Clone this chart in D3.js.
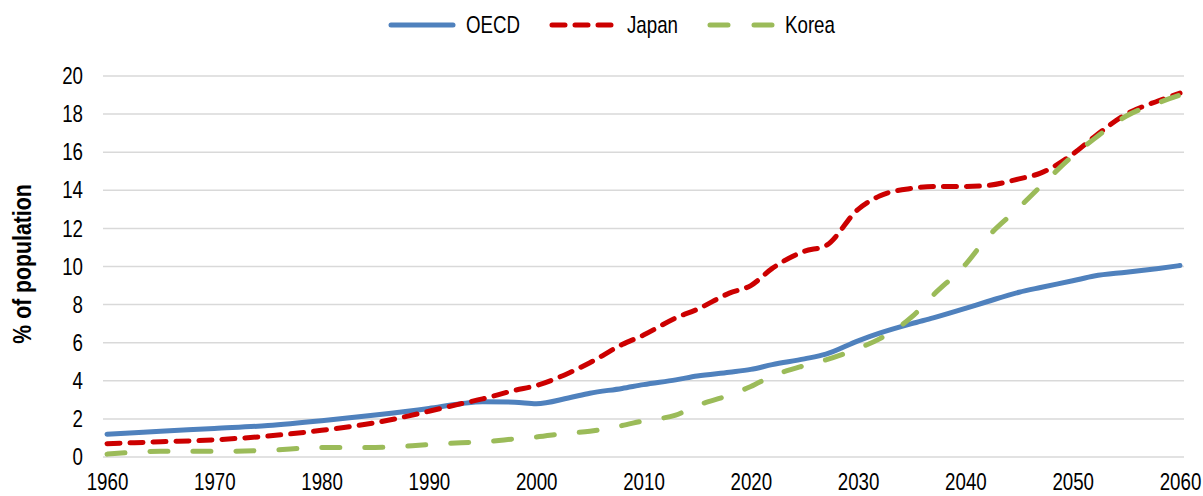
<!DOCTYPE html>
<html>
<head>
<meta charset="utf-8">
<script src="https://cdn.jsdelivr.net/npm/d3@7"></script>
<style>
  body { margin: 0; background: #fff; }
  svg text { font-family: "Liberation Sans", Arial, sans-serif; fill: #000; }
</style>
</head>
<body>
<svg id="chart" width="1203" height="496"></svg>
<script>
// data (share of population, %)
const years = [1960, 1965, 1970, 1975, 1980, 1985, 1990, 1993, 1995, 1998, 2000, 2003, 2005, 2008, 2010,
  2013, 2015, 2018, 2020, 2022, 2025, 2027, 2030, 2032, 2035, 2037, 2040, 2042, 2045, 2047, 2050, 2052,
  2055, 2058, 2060];
const oecd = [1.2, 1.35, 1.5, 1.65, 1.9, 2.2, 2.55, 2.8, 2.9, 2.88, 2.8, 3.1, 3.35, 3.6, 3.8,
  4.05, 4.25, 4.45, 4.6, 4.85, 5.15, 5.4, 6.1, 6.5, 7.0, 7.3, 7.8, 8.15, 8.65, 8.9, 9.25, 9.5,
  9.7, 9.9, 10.05];
const japan = [0.7, 0.8, 0.9, 1.1, 1.4, 1.8, 2.4, 2.8, 3.05, 3.5, 3.75, 4.4, 4.95, 5.9, 6.4,
  7.3, 7.75, 8.6, 9.0, 9.9, 10.8, 11.1, 13.0, 13.7, 14.1, 14.2, 14.2, 14.25, 14.6, 14.9, 15.9, 16.8,
  18.0, 18.7, 19.1];
const korea = [0.15, 0.3, 0.3, 0.35, 0.5, 0.5, 0.65, 0.75, 0.8, 0.95, 1.05, 1.25, 1.35, 1.65, 1.9,
  2.2, 2.7, 3.25, 3.7, 4.25, 4.8, 5.1, 5.7, 6.2, 7.35, 8.5, 10.1, 11.5, 13.1, 14.2, 15.8, 16.7,
  17.9, 18.6, 19.0];
const xTicks = [1960, 1970, 1980, 1990, 2000, 2010, 2020, 2030, 2040, 2050, 2060];
const yTicks = [0, 2, 4, 6, 8, 10, 12, 14, 16, 18, 20];

const series = [
  { name: 'OECD', values: oecd, color: '#4f81bd', dash: null },
  { name: 'Japan', values: japan, color: '#cc0000', dash: '13,10' },
  { name: 'Korea', values: korea, color: '#9bbb59', dash: '18,25' }
];

// no narrow font installed, so squeeze the text horizontally
const narrow = 'scale(0.78,1)';

const svg = d3.select('#chart');
const x = d3.scaleLinear().domain([1960, 2060]).range([107, 1180]);
const y = d3.scaleLinear().domain([0, 20]).range([457, 76]);

// gridlines
svg.append('g').selectAll('line')
  .data(yTicks)
  .enter().append('line')
  .attr('x1', 103).attr('x2', 1184)
  .attr('y1', d => y(d)).attr('y2', d => y(d))
  .attr('stroke', '#d9d9d9').attr('stroke-width', 1.5);

// y axis labels
const yAxis = svg.append('g')
  .attr('transform', 'translate(83,0)')
  .call(d3.axisLeft(y).tickValues(yTicks).tickSize(0).tickPadding(0));
yAxis.select('.domain').remove();
yAxis.selectAll('text').style('font-size', '24px').attr('transform', narrow);

// x axis labels
const xAxis = svg.append('g')
  .attr('transform', 'translate(0,473)')
  .call(d3.axisBottom(x).tickValues(xTicks).tickFormat(d3.format('d')).tickSize(0).tickPadding(0));
xAxis.select('.domain').remove();
xAxis.selectAll('text').style('font-size', '24px').attr('transform', narrow);

// y axis title
svg.append('text')
  .attr('transform', 'translate(31,264) rotate(-90) scale(0.85,1)')
  .attr('text-anchor', 'middle')
  .style('font-size', '25px')
  .style('font-weight', 'bold')
  .text('% of population');

// lines
const line = d3.line()
  .x((d, i) => x(years[i]))
  .y(d => y(d))
  .curve(d3.curveMonotoneX);

svg.append('g').selectAll('path')
  .data(series)
  .enter().append('path')
  .attr('d', d => line(d.values))
  .attr('fill', 'none')
  .attr('stroke', d => d.color)
  .attr('stroke-width', 5)
  .attr('stroke-linecap', 'round')
  .attr('stroke-linejoin', 'round')
  .attr('stroke-dasharray', d => d.dash);

// legend
const legendX = [389, 550, 708];
const legend = svg.append('g').selectAll('g')
  .data(series)
  .enter().append('g')
  .attr('transform', (d, i) => 'translate(' + legendX[i] + ',25)');
legend.append('line')
  .attr('x1', 2).attr('x2', 64)
  .attr('stroke', d => d.color)
  .attr('stroke-width', 5)
  .attr('stroke-linecap', 'round')
  .attr('stroke-dasharray', (d, i) => i === 1 ? '13,10' : i === 2 ? '18,26' : null);
legend.append('text')
  .attr('transform', 'translate(77,0) ' + narrow)
  .attr('dy', '0.35em')
  .style('font-size', '24px')
  .text(d => d.name);
</script>
</body>
</html>
